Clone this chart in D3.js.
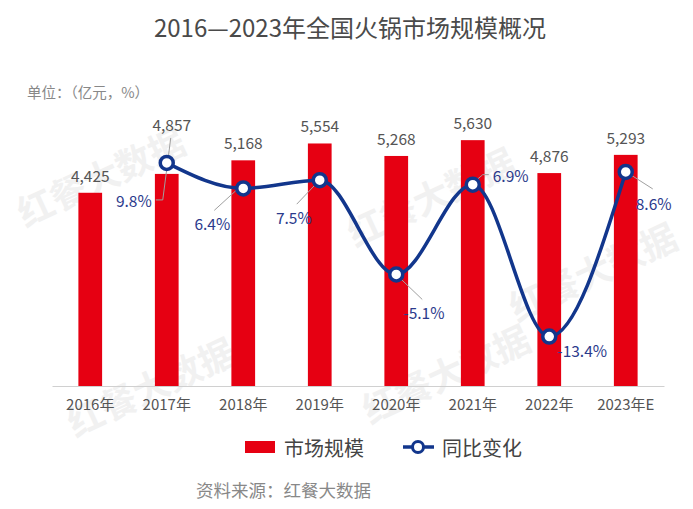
<!DOCTYPE html>
<html>
<head>
<meta charset="utf-8">
<script src="https://cdn.jsdelivr.net/npm/d3@7/dist/d3.min.js"></script>
<style>
  html, body { margin: 0; padding: 0; background: #fff; }
  svg { display: block; font-family: "Noto Sans CJK SC", "Noto Sans", sans-serif; }
</style>
</head>
<body>
<svg id="chart" width="693" height="509"></svg>
<script>
// data
var years = ["2016年", "2017年", "2018年", "2019年", "2020年", "2021年", "2022年", "2023年E"];
var marketSize = [4425, 4857, 5168, 5554, 5268, 5630, 4876, 5293];
var yoyGrowth = [null, 9.8, 6.4, 7.5, -5.1, 6.9, -13.4, 8.6];
var seriesNames = ["市场规模", "同比变化"];

// label placement for the % labels: [dx, dy, anchor, leader points]
var pctLabelPlace = [
    null,
    [-15, 37, "end", [[4, -25], [-4, 37], [-11, 37]]],
    [-13, 35, "end", [[-6, 1], [-29, 22]]],
    [-8, 37, "end", [[-4, 4], [-23, 24]]],
    [7, 38, "start", [[2, 2], [26, 25]]],
    [20, -10, "start", [[2, -3], [10, -10], [16, -10]]],
    [8, 13, "start", []],
    [10, 31, "start", [[2, 1], [27, 17]]]
];
// extra lift of bar value labels that would sit on a line point
var barLabelLift = [0, 32, 0, 0, 0, 0, 0, 0];

var RED = "#e60012",
    NAVY = "#12368c",
    svg = d3.select("#chart");

var x = d3.scaleBand().domain(years).range([52, 664]).padding(0),
    yBar = d3.scaleLinear().domain([0, 6000]).range([386, 124]),
    yLine = d3.scaleLinear().domain([-20, 15]).range([386, 124]),
    barW = x.bandwidth() * 0.31,
    cx = function (d, i) { return x(years[i]) + x.bandwidth() / 2; };

// watermark
var marks = [[100, 175], [430, 195], [150, 385], [445, 372], [592, 270]];
marks.forEach(function (m) {
    svg.append("text")
        .attr("transform", "translate(" + m[0] + "," + m[1] + ") rotate(-25)")
        .attr("text-anchor", "middle")
        .attr("dominant-baseline", "central")
        .style("font-size", "36px")
        .style("font-weight", "bold")
        .style("fill", "#f1f1f1")
        .text("红餐大数据");
});

// title
svg.append("text")
    .attr("x", 350).attr("y", 37)
    .attr("text-anchor", "middle")
    .style("font-size", "24px")
    .style("fill", "#4a4a4a")
    .text("2016—2023年全国火锅市场规模概况");

svg.append("text")
    .attr("x", 27).attr("y", 98)
    .style("font-size", "14.5px")
    .style("fill", "#888")
    .text("单位：（亿元，%）");

// x axis
var xAxis = svg.append("g")
    .attr("transform", "translate(0,386)")
    .call(d3.axisBottom(x).tickSize(0).tickPadding(13));
xAxis.select(".domain").attr("stroke", "#d0d0d0");
xAxis.selectAll("text")
    .style("font-size", "15px")
    .style("font-family", "'Noto Sans CJK SC', sans-serif")
    .style("fill", "#555");

// bars
svg.append("g").selectAll("rect")
    .data(marketSize)
    .join("rect")
    .attr("x", function (d, i) { return cx(d, i) - barW / 2; })
    .attr("y", function (d) { return yBar(d); })
    .attr("width", barW)
    .attr("height", function (d) { return yBar(0) - yBar(d); })
    .attr("fill", RED);

svg.append("g").selectAll("text")
    .data(marketSize)
    .join("text")
    .attr("x", function (d, i) { return cx(d, i) + (barLabelLift[i] ? 5 : 0); })
    .attr("y", function (d, i) { return yBar(d) - 11 - barLabelLift[i]; })
    .attr("text-anchor", "middle")
    .style("font-size", "15.5px")
    .style("fill", "#555")
    .text(d3.format(","));

// growth line
var pts = [];
yoyGrowth.forEach(function (v, i) {
    if (v !== null) pts.push({ x: cx(v, i), y: yLine(v), v: v, i: i });
});

var line = d3.line()
    .x(function (d) { return d.x; })
    .y(function (d) { return d.y; })
    .curve(d3.curveMonotoneX);

svg.append("path")
    .datum(pts)
    .attr("d", line)
    .attr("fill", "none")
    .attr("stroke", NAVY)
    .attr("stroke-width", 3.5);

// leader lines + labels
var lab = svg.append("g");
pts.forEach(function (p) {
    var pl = pctLabelPlace[p.i];
    if (pl[3].length) {
        lab.append("polyline")
            .attr("points", pl[3].map(function (q) { return (p.x + q[0]) + "," + (p.y + q[1]); }).join(" "))
            .attr("fill", "none")
            .attr("stroke", "#a0a0a0")
            .attr("stroke-width", 1);
    }
});

svg.append("g").selectAll("circle")
    .data(pts)
    .join("circle")
    .attr("cx", function (d) { return d.x; })
    .attr("cy", function (d) { return d.y; })
    .attr("r", 6.5)
    .attr("fill", "#fff")
    .attr("stroke", NAVY)
    .attr("stroke-width", 3.5);

pts.forEach(function (p) {
    var pl = pctLabelPlace[p.i];
    lab.append("text")
        .attr("x", p.x + pl[0])
        .attr("y", p.y + pl[1])
        .attr("text-anchor", pl[2])
        .attr("dominant-baseline", "central")
        .style("font-size", "15.5px")
        .style("fill", "#2b3a8c")
        .text(p.v + "%");
});

// legend
var lg = svg.append("g");
lg.append("rect")
    .attr("x", 245).attr("y", 441).attr("width", 30).attr("height", 12)
    .attr("fill", RED);
lg.append("text")
    .attr("x", 284).attr("y", 447)
    .attr("dominant-baseline", "central")
    .style("font-size", "20px").style("fill", "#444")
    .text(seriesNames[0]);
lg.append("line")
    .attr("x1", 403).attr("x2", 434).attr("y1", 447).attr("y2", 447)
    .attr("stroke", NAVY).attr("stroke-width", 3.5);
lg.append("circle")
    .attr("cx", 418).attr("cy", 447).attr("r", 5.5)
    .attr("fill", "#fff").attr("stroke", NAVY).attr("stroke-width", 3);
lg.append("text")
    .attr("x", 442).attr("y", 447)
    .attr("dominant-baseline", "central")
    .style("font-size", "20px").style("fill", "#444")
    .text(seriesNames[1]);

// source
svg.append("text")
    .attr("x", 196).attr("y", 497)
    .style("font-size", "17.5px")
    .style("fill", "#888")
    .text("资料来源：红餐大数据");
</script>
</body>
</html>
